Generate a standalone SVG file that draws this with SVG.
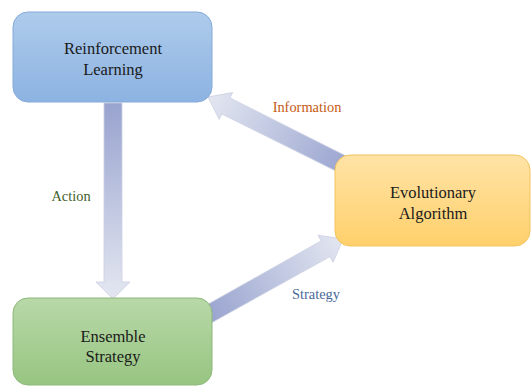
<svg xmlns="http://www.w3.org/2000/svg" width="531" height="386" viewBox="0 0 531 386">
<defs>
<linearGradient id="arrowGrad" x1="0" y1="0" x2="1" y2="0">
<stop offset="0" stop-color="#98a3cf"/>
<stop offset="1" stop-color="#e4e7f1"/>
</linearGradient>
<linearGradient id="blueGrad" x1="0" y1="0" x2="0" y2="1">
<stop offset="0" stop-color="#aecbeb"/>
<stop offset="1" stop-color="#8cb3e2"/>
</linearGradient>
<linearGradient id="yellowGrad" x1="0" y1="0" x2="0" y2="1">
<stop offset="0" stop-color="#ffe3a6"/>
<stop offset="1" stop-color="#ffd06b"/>
</linearGradient>
<linearGradient id="greenGrad" x1="0" y1="0" x2="0" y2="1">
<stop offset="0" stop-color="#b8d8a8"/>
<stop offset="1" stop-color="#97c581"/>
</linearGradient>
</defs>
<style>
.arrow{fill:url(#arrowGrad);stroke:#cdd1e3;stroke-width:0.8}
.box{stroke-width:1}
text{font-family:"Times New Roman","Liberation Serif","Noto Serif","DejaVu Serif",serif}
.node{font-size:16.5px;fill:#1a1a1a;text-anchor:middle}
.lbl{font-size:14.4px;text-anchor:middle}
</style>
<g id="connectors">
<polygon class="arrow" transform="translate(113,299) rotate(90)" points="0,0 -17,-17 -17,-9 -196,-9 -196,9 -17,9 -17,17"/>
<polygon class="arrow" transform="translate(208,97) rotate(206.57)" points="0,0 -20,-15 -20,-9 -159,-9 -159,9 -20,9 -20,15"/>
<polygon class="arrow" transform="translate(343,239) rotate(-29.2)" points="0,0 -20,-15.5 -20,-9 -158,-9 -158,9 -20,9 -20,15.5"/>
<text class="lbl" x="71" y="201" fill="#3f5f2c">Action</text>
<text class="lbl" x="307" y="112" fill="#c55a11">Information</text>
<text class="lbl" x="316" y="299" fill="#4a6a9a">Strategy</text>
</g>
<g id="reinforcement-learning">
<rect class="box" x="13" y="12" width="199" height="90" rx="15" fill="url(#blueGrad)" stroke="#86aad8"/>
<text class="node" x="113" y="54">Reinforcement</text>
<text class="node" x="113" y="75">Learning</text>
</g>
<g id="evolutionary-algorithm">
<rect class="box" x="335" y="155" width="195" height="91" rx="15" fill="url(#yellowGrad)" stroke="#f2c45e"/>
<text class="node" x="433" y="198">Evolutionary</text>
<text class="node" x="433" y="219">Algorithm</text>
</g>
<g id="ensemble-strategy">
<rect class="box" x="13" y="298" width="199" height="87" rx="15" fill="url(#greenGrad)" stroke="#8cb87a"/>
<text class="node" x="113" y="342">Ensemble</text>
<text class="node" x="113" y="362">Strategy</text>
</g>
</svg>
